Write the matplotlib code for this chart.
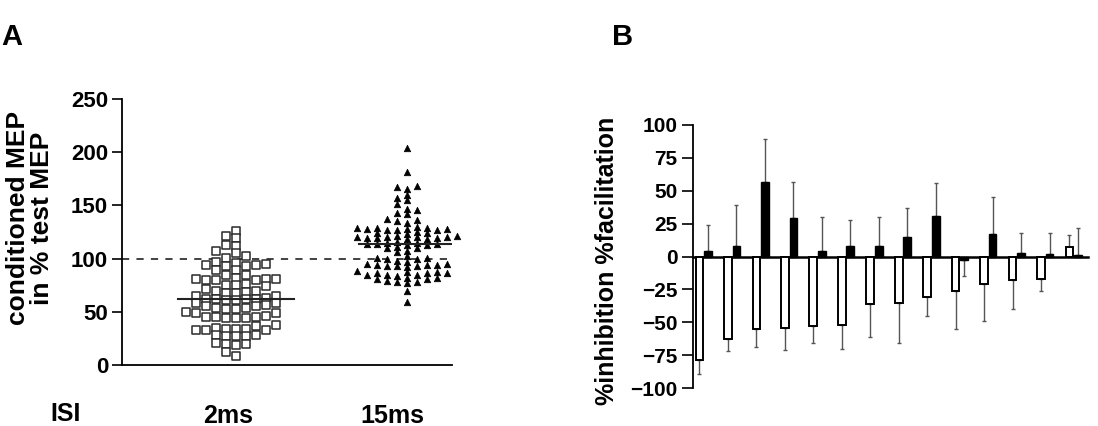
import numpy as np
import matplotlib
matplotlib.use("Agg")
import matplotlib.pyplot as plt
from matplotlib.transforms import ScaledTranslation

plt.rcParams['font.family'] = ['Liberation Sans', 'DejaVu Sans']
plt.rcParams['font.weight'] = 'bold'

# ---------------- data ----------------
groups = ["2ms", "15ms"]
cond_2ms = [126, 121, 119, 113, 112, 107, 105, 102, 101, 97, 96, 95, 94, 94, 93, 93,
            89, 89, 85, 85, 82, 81, 81, 81, 80, 80, 80, 76, 75, 75, 74, 71, 70, 70, 69,
            68, 68, 65, 65, 63, 62, 62, 62, 62, 61, 61, 58, 58, 56, 55, 55, 54, 54, 53,
            53, 50, 49, 49, 46, 45, 45, 45, 44, 44, 44, 38, 37, 35, 34, 34, 34, 33, 33,
            33, 28, 28, 27, 27, 27, 21, 20, 20, 19, 12, 8]
cond_15ms = [204, 181, 168, 167, 165, 160, 157, 155, 151, 147, 146, 143, 142, 137, 136,
             135, 133, 130, 129, 129, 129, 128, 128, 128, 127, 127, 127, 125, 124, 124,
             123, 121, 121, 120, 120, 120, 120, 119, 119, 119, 118, 118, 116, 115, 115,
             114, 114, 114, 113, 113, 111, 110, 110, 107, 106, 102, 101, 101, 100, 100,
             98, 97, 95, 95, 94, 94, 94, 93, 93, 93, 92, 88, 87, 87, 86, 86, 86, 85, 85,
             85, 84, 82, 82, 81, 81, 79, 78, 78, 77, 70, 59]
reference_level = 100

inhibition = [-79, -63, -55, -54, -53, -52, -36, -35, -31, -26, -21, -18, -17, 7]
inhibition_sd = [10, 9, 14, 17, 13, 18, 25, 31, 14, 29, 28, 22, 9, 9]
facilitation = [4, 8, 57, 29, 4, 8, 8, 15, 31, -3, 17, 3, 2, 1]
facilitation_sd = [20, 31, 32, 28, 26, 20, 22, 22, 25, 12, 28, 15, 16, 21]

# ---------------- figure ----------------
W, H = 1098, 426
fig = plt.figure(figsize=(W / 100, H / 100), dpi=100)


def frac(x0, ytop, x1, ybot):
    return [x0 / W, 1 - ybot / H, (x1 - x0) / W, (ybot - ytop) / H]


# ---------- Panel A ----------
axA = fig.add_axes(frac(122, 99, 452, 365))
axA.set_ylim(0, 250)
axA.set_xlim(0.333, 2.263)
for s in ["top", "right"]:
    axA.spines[s].set_visible(False)
axA.spines["left"].set_linewidth(1.3)
axA.spines["bottom"].set_linewidth(1.3)
axA.set_yticks([0, 50, 100, 150, 200, 250])
axA.tick_params(axis="y", labelsize=16, length=7, width=1.2, pad=3)
axA.set_xticks([1, 2])
axA.set_xticklabels(groups, fontsize=18)
axA.tick_params(axis="x", length=0, pad=28)
shifts = [-8, -15]
for lab, sh in zip(axA.get_xticklabels(), shifts):
    lab.set_transform(lab.get_transform() + ScaledTranslation(sh / 100, 0, fig.dpi_scale_trans))

axA.axhline(reference_level, color="#333333", lw=1.3, ls=(0, (4, 4)), zorder=1)


def column_swarm(ax, vals, center, col_px, h_px):
    vals = np.asarray(vals, float)
    ypx = ax.transData.transform(np.column_stack([np.full(len(vals), center), vals]))[:, 1]
    x0 = ax.transData.transform([[center, 0]])[0, 0]
    x1 = ax.transData.transform([[center + 1, 0]])[0, 0]
    unit = x1 - x0
    order = np.argsort(vals)
    cols = {}
    xs = np.zeros(len(vals))
    prefs = [0]
    for k in range(1, 30):
        prefs += [-k, k]
    for i in order:
        for k in prefs:
            lst = cols.setdefault(k, [])
            if all(abs(ypx[i] - y) >= h_px for y in lst):
                lst.append(ypx[i])
                xs[i] = center + k * col_px / unit
                break
    return xs


xs1 = column_swarm(axA, cond_2ms, 1, 10, 7)
xs2 = column_swarm(axA, cond_15ms, 2, 10, 5)
axA.scatter(xs1, cond_2ms, marker="s", s=28, facecolor="white", edgecolor="#2a2a2a",
            linewidth=1.1, zorder=3, clip_on=False)
axA.scatter(xs2, cond_15ms, marker="^", s=22, facecolor="black", edgecolor="black",
            linewidth=0.5, zorder=3, clip_on=False)
med_half = [0.34, 0.28]
for c, vals, hw in zip([1, 2], [cond_2ms, cond_15ms], med_half):
    m = np.median(vals)
    axA.plot([c - hw, c + hw], [m, m], color="#222222", lw=1.5, zorder=4)

fig.text(30 / W, 1 - 218 / H, "conditioned MEP\nin % test MEP", rotation=90,
         ha="center", va="center", fontsize=19, multialignment="center", linespacing=1.05)
fig.text(66 / W, 1 - 421 / H, "ISI", ha="center", va="baseline", fontsize=18)
fig.text(1 / W, 1 - 45 / H, "A", ha="left", va="baseline", fontsize=21)
fig.text(612 / W, 1 - 45 / H, "B", ha="left", va="baseline", fontsize=21)

# ---------- Panel B ----------
axB = fig.add_axes(frac(693, 125, 1088, 388))
axB.set_ylim(-100, 100)
axB.set_xlim(-0.378, 13.5)
for s in ["top", "right"]:
    axB.spines[s].set_visible(False)
axB.spines["bottom"].set_position(("data", 0))
axB.spines["bottom"].set_linewidth(1.8)
axB.spines["left"].set_linewidth(1.3)
axB.set_xticks([])
axB.set_yticks([-100, -75, -50, -25, 0, 25, 50, 75, 100])
axB.tick_params(axis="y", labelsize=15, length=8, width=1.2, pad=3)

n = len(inhibition)
idx = np.arange(n)
bw = 0.27
off = 0.15
inh = np.asarray(inhibition, float)
fac = np.asarray(facilitation, float)
inh_sd = np.asarray(inhibition_sd, float)
fac_sd = np.asarray(facilitation_sd, float)

axB.bar(idx - off, inh, width=bw, facecolor="white", edgecolor="black", linewidth=1.4, zorder=3)
axB.bar(idx + off, fac, width=bw, facecolor="black", edgecolor="black", linewidth=1.0, zorder=3)


def one_sided(vals, sd):
    lower = np.where(vals < 0, sd, 0)
    upper = np.where(vals >= 0, sd, 0)
    return np.vstack([lower, upper])


axB.errorbar(idx - off, inh, yerr=one_sided(inh, inh_sd), fmt="none", ecolor="#555555",
             elinewidth=1.0, capsize=1.5, capthick=1.0, zorder=2)
axB.errorbar(idx + off, fac, yerr=one_sided(fac, fac_sd), fmt="none", ecolor="#555555",
             elinewidth=1.0, capsize=1.5, capthick=1.0, zorder=2)

fig.text(607 / W, 1 - 261 / H, "%inhibition %facilitation", rotation=90,
         ha="center", va="center", fontsize=18)

fig.savefig("out.png", dpi=100)
